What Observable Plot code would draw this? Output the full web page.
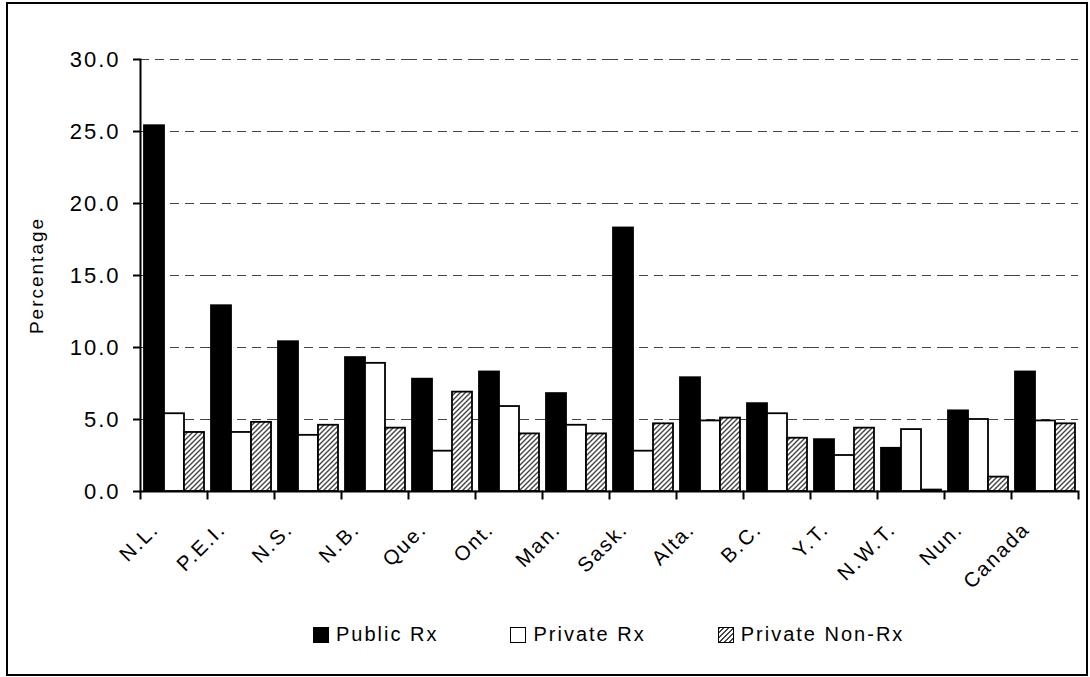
<!DOCTYPE html>
<html><head><meta charset="utf-8">
<script src="https://cdn.jsdelivr.net/npm/d3@7"></script>
<script src="https://cdn.jsdelivr.net/npm/@observablehq/plot@0.6"></script>
<style>
body{margin:0;background:#fff;font-family:"Liberation Sans",Arial,sans-serif;}
#wrap{position:relative;width:1090px;height:677px;overflow:hidden;background:#fff;}
#border{position:absolute;left:6px;top:2px;width:1082px;height:674px;border:2px solid #000;box-sizing:border-box;pointer-events:none;}
#chart{position:absolute;left:0;top:0;}
#legend{position:absolute;left:313px;top:623px;display:flex;align-items:center;gap:72px;font-size:20px;letter-spacing:2px;color:#000;}
.item{display:flex;align-items:center;white-space:nowrap;}
.sw{display:inline-block;width:16px;height:16px;border:1.6px solid #000;box-sizing:border-box;margin-right:7px;}
</style>
</head><body>
<div id="wrap"><div id="chart"></div><div id="legend"></div><div id="border"></div></div>
<script>
const categories = ["N.L.","P.E.I.","N.S.","N.B.","Que.","Ont.","Man.","Sask.","Alta.","B.C.","Y.T.","N.W.T.","Nun.","Canada"];
const series = ["Public Rx","Private Rx","Private Non-Rx"];
const publicRx     = [25.4,12.9,10.4,9.3,7.8,8.3,6.8,18.3,7.9,6.1,3.6,3.0,5.6,8.3];
const privateRx    = [5.4,4.1,3.9,8.9,2.8,5.9,4.6,2.8,4.9,5.4,2.5,4.3,5.0,4.9];
const privateNonRx = [4.1,4.8,4.6,4.4,6.9,4.0,4.0,4.7,5.1,3.7,4.4,0.1,1.0,4.7];
const yTicks = [0,5,10,15,20,25,30];
const seriesFills = ["#000","#fff","url(#hatch)"];

const values = [publicRx, privateRx, privateNonRx];
const data = categories.flatMap((c,i) => series.map((s,j) => ({cat:c, series:s, value:values[j][i]})));

const W=1090,H=585,ML=140,MR=12,MT=59,MB=H-491;
const innerH = H-MT-MB;

const chart = Plot.plot({
  width:W,height:H,marginLeft:ML,marginRight:MR,marginTop:MT,marginBottom:MB,
  style:{fontFamily:'"Liberation Sans", Arial, sans-serif', fontSize:"20px", letterSpacing:"2px", color:"#000", background:"transparent", overflow:"visible"},
  fx:{domain:categories,padding:0,axis:null,label:null},
  x:{domain:series,paddingInner:0,paddingOuter:0.12,axis:null,label:null},
  y:{domain:[0,30],axis:null},
  color:{domain:series,range:seriesFills},
  marks:[
    Plot.gridY(yTicks.filter(d=>d>0), {stroke:"#444", strokeOpacity:1, strokeWidth:1.2, strokeDasharray:"9,6"}),
    Plot.barY(data,{fx:"cat",x:"series",y:"value",fill:"series",stroke:"#000",strokeWidth:1.8}),
    Plot.ruleY([0],{stroke:"#000",strokeWidth:2}),
    Plot.frame({anchor:"left", facetAnchor:"left", stroke:"#000", strokeWidth:2}),
    Plot.frame({anchor:"left", insetTop:innerH, insetBottom:-7, stroke:"#000", strokeWidth:2}),
    Plot.frame({anchor:"right", facetAnchor:"right", insetTop:innerH, insetBottom:-7, stroke:"#000", strokeWidth:2}),
    Plot.axisY(yTicks,{tickFormat:d3.format(".1f"),tickSize:7,tickPadding:13,fontSize:22,label:null,stroke:"#000",strokeWidth:2,style:{letterSpacing:"3px"}}),
    Plot.text(categories,{fx:d=>d,text:d=>d,frameAnchor:"bottom",rotate:-45,textAnchor:"end",dx:-14,dy:39,fontSize:20.5}),
    Plot.text(["Percentage"],{frameAnchor:"left",facetAnchor:"left",rotate:-90,textAnchor:"middle",dx:-104,fontSize:19})
  ]
});
const svgEl = chart.tagName.toLowerCase()==="svg" ? chart : chart.querySelector("svg");
d3.select(svgEl).insert("defs", ":first-child").html(
  '<pattern id="hatch" patternUnits="userSpaceOnUse" width="5" height="5">' +
  '<rect width="5" height="5" fill="#fff"/>' +
  '<path d="M-1,1 l2,-2 M0,5 l5,-5 M4,6 l2,-2" stroke="#444" stroke-width="1.4"/></pattern>');
document.getElementById("chart").appendChild(chart);

const legend = d3.select("#legend");
series.forEach((s,j) => {
  const it = legend.append("div").attr("class","item");
  const sw = it.append("span").attr("class","sw");
  if (j===2) sw.style("background","repeating-linear-gradient(-45deg,#fff 0,#fff 2px,#444 2px,#444 3.4px)");
  else sw.style("background", seriesFills[j]);
  it.append("span").text(s);
});
</script>
</body></html>
